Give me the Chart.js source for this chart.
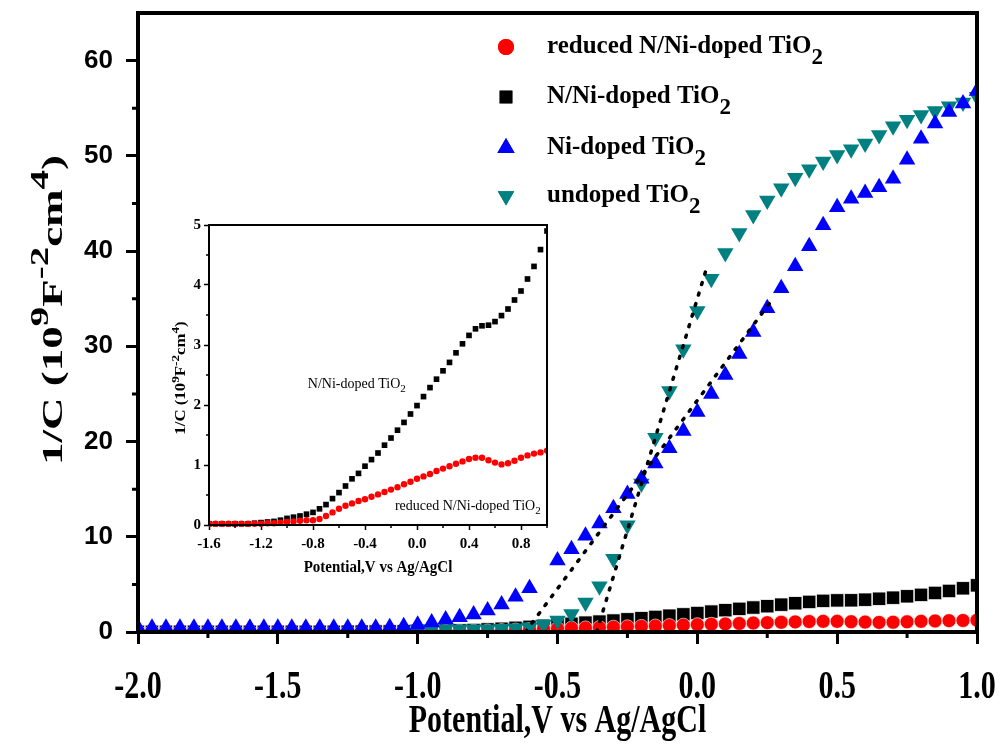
<!DOCTYPE html>
<html><head><meta charset="utf-8">
<script src="https://cdn.jsdelivr.net/npm/chart.js@4/dist/chart.umd.min.js"></script>
<style>
html,body{margin:0;padding:0;background:#fff;}
#wrap{position:relative;width:1003px;height:748px;overflow:hidden;}
#main{position:absolute;left:0;top:0;width:1003px;height:748px;}
#inset{position:absolute;left:160px;top:215px;width:400px;height:370px;}
</style></head><body>
<div id="wrap"><div id="main"><canvas id="c1"></canvas></div><div id="inset"><canvas id="c2"></canvas></div></div>
<script>
// ---------- data ----------
const potential = [-2.0,-1.95,-1.9,-1.85,-1.8,-1.75,-1.7,-1.65,-1.6,-1.55,-1.5,-1.45,-1.4,-1.35,-1.3,-1.25,-1.2,-1.15,-1.1,-1.05,
  -1.0,-0.95,-0.9,-0.85,-0.8,-0.75,-0.7,-0.65,-0.6,-0.55,-0.5,-0.45,-0.4,-0.35,-0.3,-0.25,-0.2,-0.15,-0.1,-0.05,
  0.0,0.05,0.1,0.15,0.2,0.25,0.3,0.35,0.4,0.45,0.5,0.55,0.6,0.65,0.7,0.75,0.8,0.85,0.9,0.95,1.0];
const reducedNNi = [0.02,0.02,0.02,0.02,0.02,0.02,0.02,0.02,0.02,0.02,0.02,0.02,0.02,0.02,0.02,0.02,0.02,0.03,0.03,0.04,
  0.05,0.06,0.07,0.08,0.08,0.10,0.15,0.21,0.27,0.32,0.36,0.40,0.43,0.47,0.51,0.55,0.59,0.63,0.68,0.72,
  0.77,0.81,0.85,0.90,0.94,0.98,1.02,1.06,1.10,1.12,1.12,1.08,1.04,1.01,1.03,1.07,1.12,1.16,1.19,1.21,1.24];
const nNiDoped = [0.02,0.02,0.02,0.02,0.02,0.02,0.02,0.02,0.02,0.02,0.02,0.02,0.02,0.02,0.02,0.03,0.04,0.05,0.06,0.08,
  0.11,0.13,0.15,0.18,0.21,0.27,0.34,0.44,0.54,0.65,0.77,0.86,0.98,1.09,1.20,1.33,1.45,1.58,1.71,1.85,
  1.99,2.14,2.29,2.43,2.57,2.71,2.87,3.02,3.16,3.27,3.32,3.33,3.39,3.49,3.60,3.75,3.90,4.10,4.31,4.59,4.90];
const niDoped = [0.45,0.45,0.45,0.45,0.45,0.45,0.45,0.45,0.45,0.45,0.45,0.45,0.45,0.45,0.45,0.45,0.45,0.45,0.5,0.6,
  0.75,1.0,1.3,1.55,1.85,2.25,2.9,3.7,4.6,null,7.5,8.7,10.1,11.4,13.0,14.5,16.1,17.7,19.3,21.1,
  23.1,25.0,27.0,29.2,31.5,34.0,36.1,38.4,40.5,42.7,44.6,45.5,46.1,46.7,47.6,49.6,51.8,53.4,54.6,55.5,56.8];
const potentialUndoped = [-1.0,-0.95,-0.9,-0.85,-0.8,-0.75,-0.7,-0.65,-0.6,-0.55,-0.5,-0.45,-0.4,-0.35,-0.3,-0.25,-0.2,-0.15,-0.1,-0.05,
  0.0,0.05,0.1,0.15,0.2,0.25,0.3,0.35,0.4,0.45,0.5,0.55,0.6,0.65,0.7,0.75,0.8,0.85,0.9,0.95,1.0];
const undoped = [0.3,0.3,0.3,0.3,0.3,0.3,0.35,0.4,0.5,0.8,1.2,1.9,3.1,4.8,7.7,11.2,15.6,20.4,25.3,29.7,
  33.7,37.1,39.8,41.9,43.8,45.3,46.6,47.7,48.6,49.4,50.1,50.7,51.3,52.2,53.1,53.8,54.3,54.7,55.2,55.6,56.2];
// linear fits (dotted)
const fitUndopedX = [-0.36, 0.035];
const fitUndopedY = [0, 38.4];
const fitNiX = [-0.615, 0.26];
const fitNiY = [0, 34.6];

const seriesLabels = ['reduced N/Ni-doped TiO2','N/Ni-doped TiO2','Ni-doped TiO2','undoped TiO2'];
const seriesColors = ['#ff0000','#000000','#0000ff','#008080'];

const mainXTicks = [-2.0,-1.5,-1.0,-0.5,0.0,0.5,1.0];
const mainXTickLabels = ['-2.0','-1.5','-1.0','-0.5','0.0','0.5','1.0'];
const mainXMinor = [-1.75,-1.25,-0.75,-0.25,0.25,0.75];
const mainYTicks = [0,10,20,30,40,50,60];
const mainYTickLabels = ['0','10','20','30','40','50','60'];
const mainYMinor = [5,15,25,35,45,55];
const insetXTicks = [-1.6,-1.2,-0.8,-0.4,0.0,0.4,0.8];
const insetXTickLabels = ['-1.6','-1.2','-0.8','-0.4','0.0','0.4','0.8'];
const insetXMinor = [-1.4,-1.0,-0.6,-0.2,0.2,0.6,1.0];
const insetYTicks = [0,1,2,3,4,5];
const insetYTickLabels = ['0','1','2','3','4','5'];
const insetYMinor = [0.5,1.5,2.5,3.5,4.5];

const xTitle = 'Potential,V vs Ag/AgCl';

// ---------- helpers ----------
const SERIF = '"Liberation Serif","Times New Roman",serif';
const SANS = '"Liberation Sans",Arial,sans-serif';
function pts(xs, ys){ return xs.map((x,i)=>({x:x, y:ys[i]})); }
function drawRuns(ctx, runs, x, y, align){
  let w = 0;
  runs.forEach(r=>{ ctx.font = r.font; r.w = ctx.measureText(r.t).width; w += r.w; });
  let cx = align==='center' ? x - w/2 : (align==='right' ? x - w : x);
  ctx.textAlign = 'left';
  runs.forEach(r=>{ ctx.font = r.font; ctx.fillText(r.t, cx, y + (r.dy||0)); cx += r.w; });
}
function subRuns(label, font, subFont, dy){
  if (label.endsWith('TiO2')) return [{t:label.slice(0,-1), font:font},{t:'2', font:subFont, dy:dy}];
  return [{t:label, font:font}];
}
function titleRuns(size, supSize, dy){
  const f = 'bold '+size+'px '+SERIF, s = 'bold '+supSize+'px '+SERIF;
  return [{t:'1/C (10',font:f},{t:'9',font:s,dy:-dy},{t:'F',font:f},{t:'-2',font:s,dy:-dy},{t:'cm',font:f},{t:'4',font:s,dy:-dy},{t:')',font:f}];
}
function drawMinor(ctx, scale, values, len, width){
  ctx.save(); ctx.strokeStyle='#000'; ctx.lineWidth=width; ctx.beginPath();
  values.forEach(v=>{
    const p = scale.getPixelForValue(v);
    if (scale.axis==='x'){ ctx.moveTo(p, scale.top); ctx.lineTo(p, scale.top+len); }
    else { ctx.moveTo(scale.right, p); ctx.lineTo(scale.right-len, p); }
  });
  ctx.stroke(); ctx.restore();
}
function marker(ctx, style, r, rot, x, y, color){
  ctx.save(); ctx.fillStyle=color; ctx.strokeStyle=color;
  Chart.helpers.drawPoint(ctx, {pointStyle:style, radius:r, rotation:rot, borderWidth:0}, x, y);
  ctx.fill();
  ctx.restore();
}
function noPad(s){ s.paddingTop = 0; s.paddingBottom = 0; s.paddingLeft = 0; s.paddingRight = 0; }

Chart.defaults.font.family = SERIF;
Chart.defaults.color = '#000';

// ---------- main chart ----------
const mainDecor = {
  id:'mainDecor',
  afterDatasetsDraw(chart){
    const ctx = chart.ctx, a = chart.chartArea;
    ctx.save(); ctx.strokeStyle='#000'; ctx.lineWidth=4;
    ctx.strokeRect(a.left, a.top, a.right-a.left, a.bottom-a.top);
    ctx.restore();
  },
  afterDraw(chart){
    const ctx = chart.ctx, xs = chart.scales.x, ys = chart.scales.y;
    drawMinor(ctx, xs, mainXMinor, 6, 3);
    drawMinor(ctx, ys, mainYMinor, 6, 3);
    ctx.save(); ctx.fillStyle='#000';
    ctx.font = 'bold 30px '+SERIF; ctx.textAlign='center'; ctx.textBaseline='middle';
    mainXTicks.forEach((v,i)=>{
      const px = xs.getPixelForValue(v);
      ctx.save(); ctx.translate(px, 688); ctx.scale(1, 1.3); ctx.fillText(mainXTickLabels[i], 0, 0); ctx.restore();
    });
    ctx.save(); ctx.translate((chart.chartArea.left+chart.chartArea.right)/2, 722); ctx.scale(1,1.3);
    ctx.font='bold 30px '+SERIF; ctx.fillText(xTitle, 0, 0); ctx.restore();
    ctx.save(); ctx.translate(62, 310); ctx.rotate(-Math.PI/2); ctx.scale(1.5,1);
    ctx.textBaseline='alphabetic';
    drawRuns(ctx, titleRuns(30, 26, 14), 0, 0, 'center');
    ctx.restore();
    const lx = 506, tx = 547, rows = [47, 97, 148, 196];
    const styles = [['circle',8,0],['rect',9,0],['triangle',10,0],['triangle',9.5,180]];
    rows.forEach((y,i)=>{
      marker(ctx, styles[i][0], styles[i][1], styles[i][2], lx, y, seriesColors[i]);
      ctx.fillStyle='#000'; ctx.textBaseline='middle';
      drawRuns(ctx, subRuns(seriesLabels[i], 'bold 25px '+SERIF, 'bold 23px '+SERIF, 11), tx, y, 'left');
    });
    ctx.restore();
  }
};

const clipMarkers = {left:0, top:20, right:0, bottom:0};
new Chart(document.getElementById('c1'), {
  type:'scatter',
  data:{ datasets:[
    {label:seriesLabels[0], data:pts(potential, reducedNNi), pointStyle:'circle', pointRadius:7, backgroundColor:seriesColors[0], borderColor:'#ffffff', borderWidth:0.6, order:3, clip:clipMarkers},
    {label:seriesLabels[1], data:pts(potential, nNiDoped), pointStyle:'rect', pointRadius:9.5, backgroundColor:seriesColors[1], borderColor:'#ffffff', borderWidth:0.8, order:4, clip:clipMarkers},
    {label:seriesLabels[2], data:pts(potential, niDoped), pointStyle:'triangle', pointRadius:9.5, backgroundColor:seriesColors[2], borderColor:seriesColors[2], borderWidth:0, order:1, clip:clipMarkers},
    {label:seriesLabels[3], data:pts(potentialUndoped, undoped), pointStyle:'triangle', rotation:180, pointRadius:9.5, backgroundColor:seriesColors[3], borderColor:seriesColors[3], borderWidth:0, order:2, clip:clipMarkers},
    {label:'fit undoped', data:pts(fitUndopedX, fitUndopedY), showLine:true, pointRadius:0, borderColor:'#000', borderWidth:3.5, borderDash:[2,9], borderCapStyle:'round', order:0, clip:clipMarkers},
    {label:'fit Ni', data:pts(fitNiX, fitNiY), showLine:true, pointRadius:0, borderColor:'#000', borderWidth:3.5, borderDash:[2,9], borderCapStyle:'round', order:0, clip:clipMarkers}
  ]},
  options:{
    responsive:true, maintainAspectRatio:false, animation:false, events:[],
    layout:{padding:{top:13, right:26, left:0, bottom:0}},
    plugins:{legend:{display:false}, tooltip:{enabled:false}},
    scales:{
      x:{type:'linear', min:-2.0, max:1.0,
        afterBuildTicks:s=>{ s.ticks = mainXTicks.map(v=>({value:v})); },
        afterFit:s=>{ s.height = 116; noPad(s); },
        grid:{display:true, drawOnChartArea:false, drawTicks:true, tickLength:12, tickWidth:3, tickColor:'#000', color:'#000'},
        border:{display:false},
        ticks:{display:false}
      },
      y:{type:'linear', min:0, max:65,
        afterBuildTicks:s=>{ s.ticks = mainYTicks.map(v=>({value:v})); },
        afterFit:s=>{ s.width = 138; noPad(s); },
        grid:{display:true, drawOnChartArea:false, drawTicks:true, tickLength:12, tickWidth:3, tickColor:'#000', color:'#000'},
        border:{display:false},
        ticks:{font:{family:SANS, weight:'bold', size:26}, color:'#000', padding:13,
          callback:(v)=>{ const i = mainYTicks.indexOf(v); return i>=0 ? mainYTickLabels[i] : ''; }}
      }
    }
  },
  plugins:[mainDecor]
});

// ---------- inset chart ----------
const insetDecor = {
  id:'insetDecor',
  afterDatasetsDraw(chart){
    const ctx = chart.ctx, a = chart.chartArea;
    ctx.save(); ctx.strokeStyle='#000'; ctx.lineWidth=2;
    ctx.strokeRect(a.left, a.top, a.right-a.left, a.bottom-a.top);
    ctx.restore();
  },
  afterDraw(chart){
    const ctx = chart.ctx, xs = chart.scales.x, ys = chart.scales.y;
    drawMinor(ctx, xs, insetXMinor, 3, 1.5);
    drawMinor(ctx, ys, insetYMinor, 3, 1.5);
    ctx.save(); ctx.fillStyle='#000';
    ctx.textBaseline='middle';
    ctx.save(); ctx.translate((chart.chartArea.left+chart.chartArea.right)/2, 353); ctx.scale(1,1.15);
    ctx.font='bold 15px '+SERIF; ctx.textAlign='center'; ctx.fillText(xTitle, 0, 0); ctx.restore();
    ctx.save(); ctx.translate(25, 163); ctx.rotate(-Math.PI/2); ctx.scale(1.2,1);
    ctx.textBaseline='alphabetic';
    drawRuns(ctx, titleRuns(14, 11, 6), 0, 0, 'center');
    ctx.restore();
    ctx.textBaseline='alphabetic';
    drawRuns(ctx, subRuns('N/Ni-doped TiO2', '14px '+SERIF, '11px '+SERIF, 4), xs.getPixelForValue(-0.84), ys.getPixelForValue(2.28), 'left');
    drawRuns(ctx, subRuns('reduced N/Ni-doped TiO2', '14px '+SERIF, '11px '+SERIF, 4), xs.getPixelForValue(-0.17), ys.getPixelForValue(0.25), 'left');
    ctx.restore();
  }
};
const clipInset = {left:0, top:4, right:0, bottom:2};
new Chart(document.getElementById('c2'), {
  type:'scatter',
  data:{ datasets:[
    {label:seriesLabels[0], data:pts(potential, reducedNNi), pointStyle:'circle', pointRadius:3.2, backgroundColor:seriesColors[0], borderWidth:0, order:1, clip:clipInset},
    {label:seriesLabels[1], data:pts(potential, nNiDoped), pointStyle:'rect', pointRadius:4, backgroundColor:seriesColors[1], borderWidth:0, order:2, clip:clipInset}
  ]},
  options:{
    responsive:true, maintainAspectRatio:false, animation:false, events:[],
    layout:{padding:{top:10, right:13, left:0, bottom:0}},
    plugins:{legend:{display:false}, tooltip:{enabled:false}},
    scales:{
      x:{type:'linear', min:-1.6, max:1.0,
        afterBuildTicks:s=>{ s.ticks = insetXTicks.map(v=>({value:v})); },
        afterFit:s=>{ s.height = 60; noPad(s); },
        grid:{display:true, drawOnChartArea:false, drawTicks:true, tickLength:5, tickWidth:1.5, tickColor:'#000', color:'#000'},
        border:{display:false},
        ticks:{font:{family:SERIF, weight:'bold', size:15}, color:'#000', padding:5, maxRotation:0, autoSkip:false,
          callback:(v)=>{ const i = insetXTicks.findIndex(t=>Math.abs(t-v)<1e-9); return i>=0 ? insetXTickLabels[i] : ''; }}
      },
      y:{type:'linear', min:0, max:5,
        afterBuildTicks:s=>{ s.ticks = insetYTicks.map(v=>({value:v})); },
        afterFit:s=>{ s.width = 49; noPad(s); },
        grid:{display:true, drawOnChartArea:false, drawTicks:true, tickLength:5, tickWidth:1.5, tickColor:'#000', color:'#000'},
        border:{display:false},
        ticks:{font:{family:SERIF, weight:'bold', size:15}, color:'#000', padding:3,
          callback:(v)=>{ const i = insetYTicks.indexOf(v); return i>=0 ? insetYTickLabels[i] : ''; }}
      }
    }
  },
  plugins:[insetDecor]
});
</script>
</body></html>
